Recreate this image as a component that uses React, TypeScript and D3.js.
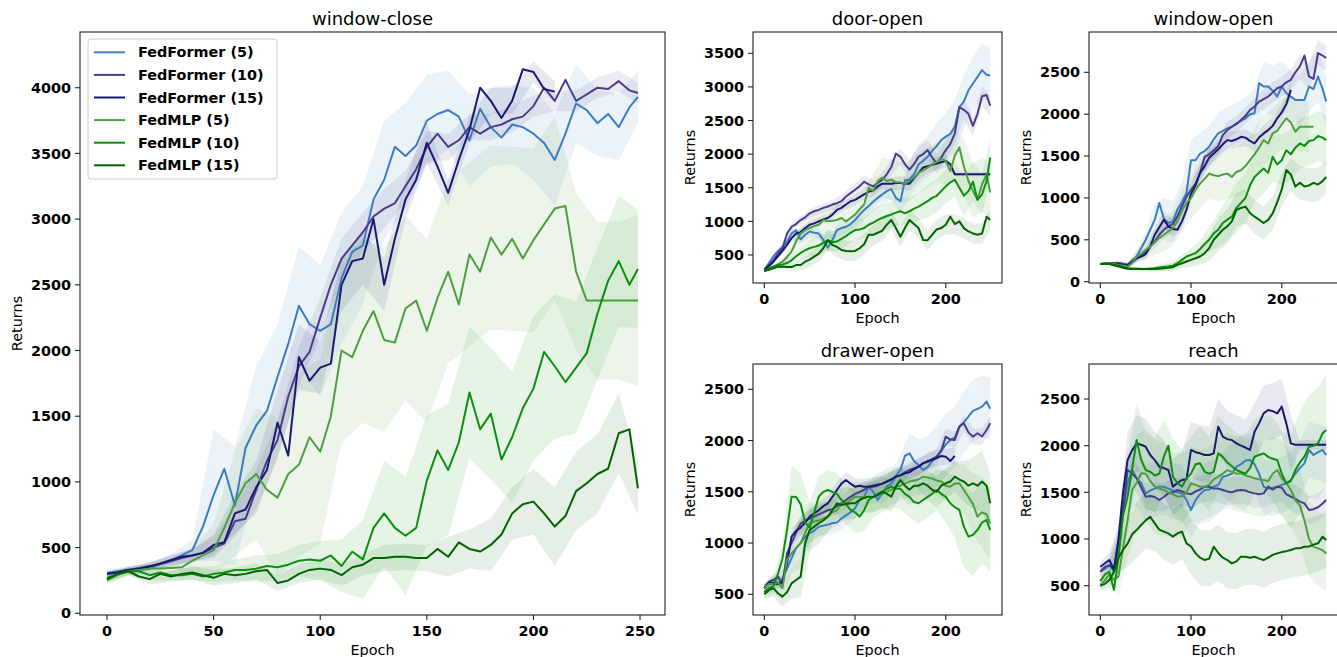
import React from 'react';
import * as d3 from 'd3';

// legend names and colours
const SERIES = ['FedFormer (5)', 'FedFormer (10)', 'FedFormer (15)', 'FedMLP (5)', 'FedMLP (10)', 'FedMLP (15)'];
const COLORS = ['#3a7dbf', '#483d8b', '#191970', '#4c9f3c', '#0c8f0c', '#006400'];

// epoch grids: lines every 5 epochs, shaded bands every 10
const EPOCHS_FINE = [0, 5, 10, 15, 20, 25, 30, 35, 40, 45, 50, 55, 60, 65, 70, 75, 80, 85, 90, 95, 100, 105, 110, 115, 120, 125, 130, 135, 140, 145, 150, 155, 160, 165, 170, 175, 180, 185, 190, 195, 200, 205, 210, 215, 220, 225, 230, 235, 240, 245, 249];
const EPOCHS = [0, 10, 20, 30, 40, 50, 60, 70, 80, 90, 100, 110, 120, 130, 140, 150, 160, 170, 180, 190, 200, 210, 220, 230, 240, 249];

// ---- window-close
const WC_FF5 = [306, 320, 330, 330, 340, 375, 400, 440, 480, 660, 900, 1100, 820, 1260, 1430, 1540, 1800, 2050, 2340, 2200, 2150, 2200, 2550, 2750, 2800, 3150, 3300, 3550, 3480, 3560, 3750, 3800, 3830, 3780, 3600, 3840, 3700, 3620, 3720, 3700, 3650, 3580, 3450, 3650, 3880, 3830, 3730, 3800, 3700, 3850, 3930];
const WC_FF10 = [300, 315, 330, 345, 360, 375, 395, 420, 440, 460, 500, 530, 700, 720, 940, 1160, 1320, 1650, 1880, 1990, 2250, 2500, 2700, 2800, 2900, 3020, 3080, 3120, 3250, 3380, 3550, 3650, 3550, 3600, 3700, 3650, 3700, 3720, 3760, 3780, 3860, 4000, 3900, 4060, 3900, 3950, 4000, 3990, 4050, 3980, 3960];
const WC_FF15 = [300, 310, 330, 340, 355, 380, 405, 430, 440, 460, 520, 540, 760, 790, 960, 1090, 1450, 1200, 1950, 1770, 1870, 1900, 2500, 2680, 2700, 3000, 2500, 2850, 3150, 3300, 3580, 3400, 3200, 3450, 3680, 4000, 3900, 3770, 3900, 4140, 4120, 3990, 3970, null, null, null, null, null, null, null, null];
const WC_MLP5 = [250, 290, 320, 330, 340, 340, 345, 350, 400, 440, 480, 650, 840, 990, 1060, 940, 880, 1060, 1130, 1340, 1230, 1500, 2000, 1950, 2150, 2300, 2080, 2060, 2320, 2380, 2150, 2400, 2600, 2350, 2730, 2600, 2860, 2730, 2850, 2700, 2840, 2960, 3080, 3100, 2600, 2380, 2380, 2380, 2380, 2380, 2380];
const WC_MLP10 = [270, 300, 320, 320, 290, 310, 290, 290, 300, 280, 300, 310, 330, 330, 340, 360, 350, 370, 400, 410, 400, 440, 360, 470, 410, 650, 760, 650, 590, 650, 1010, 1240, 1090, 1300, 1680, 1400, 1520, 1170, 1340, 1560, 1710, 1990, 1880, 1760, 1870, 1980, 2280, 2530, 2680, 2500, 2620];
const WC_MLP15 = [260, 300, 320, 280, 260, 300, 280, 300, 310, 290, 270, 300, 290, 300, 320, 330, 230, 250, 300, 330, 340, 330, 290, 350, 370, 420, 420, 430, 430, 420, 420, 490, 430, 540, 490, 470, 520, 600, 760, 830, 850, 760, 660, 740, 930, 990, 1060, 1100, 1370, 1400, 950];
const WC_BAND = [
  [30, 30, 40, 50, 80, 500, 450, 450, 400, 450, 500, 500, 450, 450, 400, 350, 300, 350, 300, 300, 350, 350, 300, 250, 250, 200],
  [20, 20, 30, 40, 50, 80, 120, 150, 150, 150, 150, 150, 150, 150, 120, 120, 100, 100, 100, 100, 80, 80, 80, 80, 80, 80],
  [20, 20, 30, 40, 50, 80, 150, 200, 250, 250, 200, 200, 200, 200, 150, 150, 100, 100, 100, 100, 80, 80, null, null, null, null],
  [30, 30, 40, 60, 100, 200, 400, 500, 600, 700, 700, 700, 700, 700, 700, 700, 700, 700, 700, 700, 700, 700, 600, 600, 600, 650],
  [30, 30, 40, 40, 50, 60, 80, 100, 100, 120, 150, 200, 300, 400, 450, 500, 500, 500, 500, 500, 550, 550, 500, 500, 500, 450],
  [30, 30, 40, 40, 50, 60, 60, 60, 60, 70, 80, 80, 80, 100, 100, 100, 150, 150, 200, 200, 250, 300, 300, 300, 300, 200],
];

// ---- door-open
const DO_FF5 = [280, 380, 480, 560, 620, 700, 820, 870, 730, 800, 850, 830, 820, 720, 610, 720, 870, 900, 920, 960, 1020, 1100, 1170, 1230, 1290, 1350, 1400, 1450, 1480, 1350, 1300, 1610, 1620, 1700, 1850, 1900, 1960, 2050, 2120, 2210, 2260, 2300, 2410, 2700, 2780, 2950, 3050, 3150, 3250, 3180, 3170];
const DO_FF10 = [280, 350, 420, 520, 600, 820, 920, 960, 1020, 1060, 1120, 1150, 1170, 1200, 1220, 1250, 1270, 1300, 1370, 1420, 1470, 1520, 1590, 1550, 1520, 1570, 1620, 1700, 1810, 2010, 1960, 1850, 1770, 1850, 1960, 2000, 2060, 1950, 1860, 1950, 2060, 2150, 2310, 2700, 2660, 2600, 2420, 2600, 2860, 2880, 2720];
const DO_FF15 = [280, 330, 400, 480, 560, 650, 750, 820, 840, 900, 950, 970, 1000, 1030, 1050, 1100, 1170, 1200, 1250, 1300, 1320, 1360, 1400, 1440, 1460, 1520, 1560, 1560, 1560, 1570, 1570, 1560, 1560, 1640, 1720, 1800, 1820, 1840, 1860, 1880, 1900, 1850, 1700, 1700, 1700, 1700, 1700, 1700, 1700, 1700, 1700];
const DO_MLP5 = [270, 290, 320, 360, 400, 470, 550, 700, 820, 870, 900, 930, 950, 1020, 1000, 1010, 1020, 1050, 1000, 1050, 1100, 1180, 1250, 1500, 1450, 1600, 1650, 1600, 1620, 1580, 1580, 1560, 1600, 1650, 1720, 1760, 1800, 1850, 1880, 1930, 1900, 1750, 1980, 2100, 1820, 1600, 1450, 1320, 1550, 1700, 1430];
const DO_MLP10 = [260, 300, 330, 350, 360, 380, 420, 480, 530, 570, 600, 620, 640, 680, 720, 690, 700, 740, 780, 830, 870, 880, 900, 950, 980, 1020, 1050, 1080, 1100, 1130, 1150, 1120, 1150, 1190, 1220, 1260, 1300, 1350, 1380, 1450, 1520, 1580, 1620, 1500, 1380, 1450, 1590, 1320, 1400, 1600, 1950];
const DO_MLP15 = [260, 280, 300, 326, 330, 320, 320, 350, 350, 400, 430, 475, 520, 600, 720, 650, 620, 574, 560, 555, 560, 600, 660, 800, 800, 830, 860, 950, 1020, 900, 770, 900, 1020, 960, 900, 723, 720, 800, 880, 900, 950, 1070, 960, 1000, 900, 850, 820, 800, 820, 1070, 1020];
const DO_BAND = [
  [10, 40, 60, 80, 80, 80, 80, 80, 100, 100, 100, 120, 150, 150, 150, 200, 250, 300, 300, 350, 350, 400, 400, 400, 400, 400],
  [10, 30, 50, 60, 60, 60, 70, 70, 80, 80, 100, 100, 100, 100, 120, 120, 150, 150, 150, 150, 150, 150, 150, 150, 150, 150],
  [10, 30, 50, 60, 60, 60, 60, 60, 70, 70, 80, 80, 80, 80, 100, 100, 100, 100, 100, 100, 100, 30, 30, 30, 30, 30],
  [10, 30, 60, 100, 150, 200, 200, 250, 250, 250, 250, 250, 250, 300, 300, 300, 300, 300, 300, 300, 350, 400, 400, 400, 400, 400],
  [10, 30, 50, 80, 100, 120, 150, 150, 150, 150, 150, 150, 200, 200, 200, 200, 200, 200, 250, 250, 250, 250, 300, 300, 300, 300],
  [10, 20, 30, 50, 80, 100, 120, 150, 150, 150, 150, 150, 150, 150, 150, 150, 150, 150, 150, 150, 150, 150, 150, 150, 150, 150],
];

// ---- window-open
const WO_FF5 = [210, 215, 220, 222, 225, 210, 200, 250, 300, 400, 500, 620, 740, 940, 750, 700, 720, 860, 950, 1060, 1450, 1450, 1530, 1560, 1610, 1700, 1770, 1800, 1830, 1850, 1890, 1920, 1950, 2000, 2010, 2370, 2330, 2330, 2280, 2210, 2330, 2250, 2210, 2170, 2170, 2170, 2330, 2300, 2450, 2300, 2150];
const WO_FF10 = [210, 215, 220, 222, 220, 210, 200, 240, 280, 320, 350, 420, 480, 560, 620, 660, 690, 780, 900, 1015, 1100, 1170, 1300, 1490, 1520, 1570, 1620, 1750, 1810, 1850, 1880, 1930, 1980, 2050, 2090, 2150, 2180, 2210, 2260, 2310, 2330, 2380, 2410, 2500, 2570, 2700, 2450, 2420, 2730, 2700, 2670];
const WO_FF15 = [210, 215, 215, 212, 210, 200, 195, 230, 280, 300, 330, 420, 560, 650, 740, 660, 630, 620, 720, 860, 1050, 1150, 1300, 1380, 1480, 1530, 1580, 1640, 1690, 1680, 1700, 1730, 1720, 1680, 1650, 1720, 1770, 1810, 1860, 1950, 2020, 2120, 2290, null, null, null, null, null, null, null, null];
const WO_MLP5 = [210, 215, 220, 210, 200, 190, 180, 220, 300, 330, 380, 420, 470, 520, 560, 600, 640, 720, 850, 940, 1000, 1100, 1170, 1230, 1290, 1270, 1260, 1280, 1290, 1250, 1310, 1330, 1380, 1450, 1520, 1600, 1690, 1650, 1770, 1800, 1880, 1950, 1900, 1790, 1850, 1850, 1850, 1850, null, null, null];
const WO_MLP10 = [210, 210, 210, 195, 180, 165, 155, 150, 150, 150, 150, 155, 160, 170, 175, 180, 190, 220, 260, 300, 320, 340, 390, 450, 500, 577, 620, 700, 740, 776, 880, 940, 1000, 1150, 1250, 1300, 1350, 1300, 1490, 1400, 1450, 1570, 1520, 1600, 1650, 1620, 1680, 1690, 1740, 1720, 1690];
const WO_MLP15 = [210, 215, 215, 200, 190, 170, 160, 155, 155, 150, 150, 150, 150, 155, 160, 165, 175, 200, 220, 240, 260, 280, 300, 340, 400, 500, 560, 620, 660, 720, 856, 880, 896, 820, 776, 740, 700, 737, 816, 950, 1100, 1334, 1280, 1135, 1180, 1135, 1150, 1180, 1160, 1200, 1250];
const WO_BAND = [
  [10, 10, 20, 30, 60, 100, 200, 250, 250, 250, 250, 250, 250, 250, 250, 250, 250, 300, 300, 300, 300, 300, 300, 300, 300, 300],
  [10, 10, 20, 30, 40, 60, 80, 100, 100, 100, 100, 100, 100, 100, 100, 100, 100, 100, 120, 120, 120, 120, 150, 150, 150, 150],
  [10, 10, 20, 30, 40, 60, 80, 100, 100, 100, 100, 100, 100, 100, 100, 100, 100, 100, 100, 100, 100, 100, null, null, null, null],
  [10, 20, 30, 40, 80, 120, 150, 200, 200, 250, 250, 300, 300, 300, 300, 300, 300, 300, 300, 300, 300, 300, 300, 300, null, null],
  [10, 10, 20, 20, 20, 20, 30, 40, 50, 60, 80, 100, 150, 200, 250, 300, 300, 300, 300, 300, 300, 300, 300, 300, 300, 300],
  [10, 10, 20, 20, 20, 20, 30, 40, 50, 60, 80, 100, 150, 200, 200, 200, 200, 200, 200, 200, 200, 200, 200, 200, 200, 200],
];

// ---- drawer-open
const DR_FF5 = [560, 620, 640, 600, 650, 750, 850, 950, 1000, 1060, 1100, 1120, 1160, 1170, 1180, 1193, 1200, 1240, 1270, 1300, 1340, 1420, 1450, 1550, 1500, 1420, 1480, 1550, 1580, 1650, 1713, 1850, 1876, 1800, 1760, 1713, 1740, 1800, 1843, 1900, 1960, 2006, 2030, 2136, 2180, 2233, 2290, 2310, 2331, 2380, 2310];
const DR_FF10 = [560, 620, 640, 672, 600, 900, 1000, 1100, 1190, 1220, 1240, 1258, 1280, 1300, 1320, 1330, 1360, 1388, 1420, 1450, 1480, 1500, 1520, 1550, 1550, 1560, 1580, 1600, 1620, 1648, 1660, 1690, 1713, 1730, 1745, 1778, 1790, 1820, 1843, 1900, 2038, 2010, 2006, 2136, 2168, 2080, 2038, 2071, 2040, 2103, 2168];
const DR_FF15 = [560, 610, 610, 600, 620, 800, 1063, 1120, 1150, 1200, 1258, 1290, 1320, 1360, 1388, 1450, 1518, 1580, 1615, 1580, 1550, 1560, 1550, 1550, 1560, 1570, 1580, 1600, 1620, 1648, 1660, 1680, 1690, 1720, 1745, 1780, 1800, 1810, 1830, 1850, 1843, 1800, 1850, null, null, null, null, null, null, null, null];
const DR_MLP5 = [560, 600, 600, 620, 560, 835, 900, 950, 1000, 1100, 1193, 1210, 1220, 1240, 1258, 1300, 1320, 1380, 1390, 1420, 1453, 1450, 1450, 1450, 1450, 1460, 1480, 1500, 1520, 1550, 1560, 1580, 1600, 1610, 1620, 1648, 1640, 1630, 1610, 1600, 1560, 1550, 1580, 1583, 1518, 1450, 1380, 1258, 1300, 1280, 1193];
const DR_MLP10 = [520, 560, 580, 700, 850, 1128, 1453, 1450, 1380, 1200, 1150, 1300, 1453, 1500, 1518, 1500, 1480, 1420, 1380, 1323, 1300, 1258, 1320, 1420, 1450, 1480, 1500, 1530, 1550, 1530, 1530, 1480, 1450, 1400, 1388, 1420, 1450, 1480, 1518, 1480, 1450, 1388, 1350, 1323, 1160, 1063, 1080, 1128, 1200, 1225, 1128];
const DR_MLP15 = [500, 540, 560, 510, 477, 520, 607, 640, 672, 998, 1128, 1160, 1193, 1220, 1258, 1320, 1388, 1370, 1380, 1388, 1388, 1420, 1440, 1453, 1450, 1470, 1500, 1480, 1453, 1550, 1615, 1560, 1520, 1560, 1560, 1583, 1560, 1520, 1500, 1560, 1583, 1600, 1648, 1620, 1600, 1560, 1583, 1560, 1600, 1560, 1388];
const DR_BAND = [
  [50, 60, 80, 100, 100, 100, 100, 100, 100, 100, 100, 100, 100, 100, 120, 150, 200, 250, 300, 300, 300, 300, 300, 300, 300, 300],
  [40, 50, 60, 80, 80, 80, 80, 80, 80, 80, 80, 80, 80, 80, 80, 80, 80, 80, 80, 80, 80, 80, 80, 80, 80, 80],
  [40, 50, 60, 80, 80, 80, 80, 80, 80, 80, 80, 80, 80, 80, 80, 80, 80, 80, 80, 80, 80, 80, null, null, null, null],
  [50, 80, 120, 200, 250, 200, 150, 150, 150, 150, 150, 150, 150, 150, 150, 150, 150, 150, 150, 150, 150, 200, 250, 300, 350, 350],
  [50, 80, 150, 300, 300, 250, 200, 200, 200, 200, 200, 200, 200, 200, 200, 200, 200, 200, 200, 200, 250, 300, 400, 400, 400, 400],
  [50, 80, 100, 150, 200, 200, 200, 150, 150, 150, 150, 150, 150, 150, 150, 150, 150, 150, 150, 150, 150, 150, 200, 250, 300, 300],
];

// ---- reach
const RE_FF5 = [650, 680, 720, 650, 900, 1300, 1600, 1739, 1650, 1600, 1489, 1520, 1540, 1561, 1560, 1540, 1520, 1500, 1489, 1420, 1311, 1420, 1480, 1525, 1530, 1561, 1580, 1668, 1680, 1700, 1775, 1800, 1840, 1846, 1800, 1700, 1561, 1540, 1550, 1561, 1580, 1600, 1632, 1700, 1760, 1811, 1954, 1900, 1930, 1954, 1900];
const RE_FF10 = [650, 700, 720, 680, 950, 1300, 1739, 1704, 1650, 1550, 1454, 1460, 1450, 1418, 1450, 1490, 1500, 1525, 1510, 1489, 1480, 1510, 1530, 1561, 1560, 1540, 1540, 1525, 1510, 1500, 1520, 1525, 1520, 1500, 1489, 1480, 1489, 1561, 1530, 1561, 1550, 1480, 1454, 1430, 1400, 1382, 1311, 1320, 1340, 1380, 1418];
const RE_FF15 = [703, 740, 775, 668, 1000, 1500, 1846, 1950, 2025, 2010, 1989, 1900, 1846, 1775, 1760, 1739, 1561, 1600, 1632, 1640, 1954, 1930, 1918, 1900, 1900, 1918, 2204, 2096, 2070, 2061, 2025, 2000, 1980, 1954, 2150, 2239, 2346, 2382, 2370, 2346, 2418, 2239, 2025, 2010, 2010, 2010, 2010, 2010, 2010, 2010, 2010];
const RE_MLP5 = [500, 560, 620, 560, 600, 900, 1200, 1525, 1600, 1704, 1700, 1620, 1561, 1540, 1525, 1500, 1480, 1454, 1460, 1500, 1596, 1580, 1560, 1561, 1580, 1640, 1668, 1700, 1739, 1720, 1700, 1704, 1680, 1668, 1650, 1640, 1632, 1620, 1700, 1739, 1650, 1600, 1525, 1418, 1360, 1200, 1000, 918, 900, 880, 846];
const RE_MLP10 = [550, 620, 650, 454, 800, 1250, 1450, 1750, 2061, 1850, 1739, 1720, 1680, 1700, 1882, 2000, 1668, 1600, 1561, 1650, 1700, 1800, 1811, 1720, 1700, 1720, 1918, 1880, 1820, 1780, 1739, 1720, 1700, 1760, 1882, 1900, 1918, 1880, 1860, 1846, 1700, 1596, 1620, 1739, 1820, 1882, 1989, 2000, 2025, 2132, 2168];
const RE_MLP15 = [500, 520, 560, 650, 800, 882, 950, 1050, 1096, 1150, 1200, 1239, 1168, 1100, 1080, 1061, 1025, 1060, 1080, 954, 920, 846, 800, 775, 790, 918, 850, 800, 775, 739, 760, 811, 810, 800, 811, 790, 775, 800, 830, 846, 860, 870, 882, 900, 900, 918, 920, 940, 954, 1025, 989];
const RE_BAND = [
  [50, 80, 150, 300, 300, 300, 300, 300, 300, 300, 300, 300, 300, 300, 300, 300, 300, 300, 300, 300, 300, 300, 300, 300, 300, 300],
  [50, 80, 150, 200, 150, 150, 150, 150, 150, 150, 150, 150, 150, 150, 150, 150, 150, 150, 150, 150, 150, 150, 150, 150, 150, 150],
  [50, 80, 150, 300, 300, 300, 300, 300, 300, 300, 300, 300, 300, 300, 300, 300, 300, 300, 300, 300, 300, 300, 50, 50, 50, 50],
  [50, 100, 200, 400, 500, 500, 500, 500, 450, 450, 400, 400, 400, 400, 400, 400, 400, 400, 400, 400, 400, 400, 400, 400, 400, 400],
  [50, 100, 200, 400, 400, 400, 400, 400, 400, 400, 400, 400, 400, 400, 400, 400, 400, 400, 400, 450, 450, 500, 550, 550, 600, 600],
  [50, 100, 150, 250, 300, 300, 300, 300, 300, 300, 300, 300, 300, 300, 300, 300, 300, 300, 300, 300, 300, 300, 300, 300, 300, 300],
];

const BIG_X_TICKS = [0, 50, 100, 150, 200, 250];
const SMALL_X_TICKS = [0, 100, 200];

type Box = { left: number; top: number; width: number; height: number };
type PanelCfg = {
  id: string;
  title: string;
  box: Box;
  xDomain: [number, number];
  yDomain: [number, number];
  xTicks: number[];
  yTicks: number[];
  values: (number | null)[][];
  bands: (number | null)[][];
};

const PANELS: PanelCfg[] = [
  {
    id: 'wc', title: 'window-close',
    box: { left: 80, top: 32, width: 585, height: 583 },
    xDomain: [-12.66, 261.7], yDomain: [-13, 4424],
    xTicks: BIG_X_TICKS, yTicks: [0, 500, 1000, 1500, 2000, 2500, 3000, 3500, 4000],
    values: [WC_FF5, WC_FF10, WC_FF15, WC_MLP5, WC_MLP10, WC_MLP15],
    bands: WC_BAND,
  },
  {
    id: 'do', title: 'door-open',
    box: { left: 753, top: 32, width: 249, height: 251 },
    xDomain: [-12.5, 262], yDomain: [83, 3817],
    xTicks: SMALL_X_TICKS, yTicks: [500, 1000, 1500, 2000, 2500, 3000, 3500],
    values: [DO_FF5, DO_FF10, DO_FF15, DO_MLP5, DO_MLP10, DO_MLP15],
    bands: DO_BAND,
  },
  {
    id: 'wo', title: 'window-open',
    box: { left: 1089, top: 32, width: 249, height: 251 },
    xDomain: [-12.5, 262], yDomain: [-16, 2981],
    xTicks: SMALL_X_TICKS, yTicks: [0, 500, 1000, 1500, 2000, 2500],
    values: [WO_FF5, WO_FF10, WO_FF15, WO_MLP5, WO_MLP10, WO_MLP15],
    bands: WO_BAND,
  },
  {
    id: 'dr', title: 'drawer-open',
    box: { left: 753, top: 364, width: 249, height: 251 },
    xDomain: [-12.5, 262], yDomain: [298, 2747],
    xTicks: SMALL_X_TICKS, yTicks: [500, 1000, 1500, 2000, 2500],
    values: [DR_FF5, DR_FF10, DR_FF15, DR_MLP5, DR_MLP10, DR_MLP15],
    bands: DR_BAND,
  },
  {
    id: 're', title: 'reach',
    box: { left: 1089, top: 364, width: 249, height: 251 },
    xDomain: [-12.5, 262], yDomain: [186, 2875],
    xTicks: SMALL_X_TICKS, yTicks: [500, 1000, 1500, 2000, 2500],
    values: [RE_FF5, RE_FF10, RE_FF15, RE_MLP5, RE_MLP10, RE_MLP15],
    bands: RE_BAND,
  },
];

const FONT = "'DejaVu Sans', sans-serif";
const TICK_SIZE = 14.4;

const Panel: React.FC<{ p: PanelCfg; legend?: boolean }> = ({ p, legend }) => {
  const { left, top, width, height } = p.box;
  const bottom = top + height;
  const x = d3.scaleLinear().domain(p.xDomain).range([left, left + width]);
  const y = d3.scaleLinear().domain(p.yDomain).range([bottom, top]);
  const clipId = `clip-${p.id}`;

  const line = d3
    .line<[number, number | null]>()
    .defined((d) => d[1] != null)
    .x((d) => x(d[0]))
    .y((d) => y(d[1] as number));

  const area = d3
    .area<[number, number | null, number | null]>()
    .defined((d) => d[1] != null && d[2] != null)
    .x((d) => x(d[0]))
    .y0((d) => y((d[1] as number) - (d[2] as number)))
    .y1((d) => y((d[1] as number) + (d[2] as number)));

  return (
    <g>
      <defs>
        <clipPath id={clipId}>
          <rect x={left} y={top} width={width} height={height} />
        </clipPath>
      </defs>

      <g clipPath={`url(#${clipId})`}>
        {/* shaded bands, centred on the line value at the same epoch */}
        {p.bands.map((spread, si) => {
          const pts: [number, number | null, number | null][] = EPOCHS.map((e, i) => {
            const idx = EPOCHS_FINE.indexOf(e);
            return [e, p.values[si][idx], spread[i]];
          });
          return <path key={`b${si}`} d={area(pts) ?? ''} fill={COLORS[si]} fillOpacity={0.1} stroke="none" />;
        })}
        {p.values.map((vals, si) => (
          <path
            key={`l${si}`}
            d={line(EPOCHS_FINE.map((e, i) => [e, vals[i]] as [number, number | null])) ?? ''}
            fill="none"
            stroke={COLORS[si]}
            strokeWidth={2}
            strokeLinejoin="round"
          />
        ))}
      </g>

      {/* frame */}
      <rect x={left} y={top} width={width} height={height} fill="none" stroke="#222" strokeWidth={1.1} />

      {/* y ticks */}
      {p.yTicks.map((t) => (
        <g key={`y${t}`}>
          <line x1={left - 5} x2={left} y1={y(t)} y2={y(t)} stroke="#222" strokeWidth={1.1} />
          <text x={left - 9} y={y(t)} dy="0.36em" textAnchor="end" fontFamily={FONT} fontWeight="bold" fontSize={TICK_SIZE} fill="#000">
            {t}
          </text>
        </g>
      ))}

      {/* x ticks */}
      {p.xTicks.map((t) => (
        <g key={`x${t}`}>
          <line x1={x(t)} x2={x(t)} y1={bottom} y2={bottom + 5} stroke="#222" strokeWidth={1.1} />
          <text x={x(t)} y={bottom + 21} textAnchor="middle" fontFamily={FONT} fontWeight="bold" fontSize={TICK_SIZE} fill="#000">
            {t}
          </text>
        </g>
      ))}

      {/* labels */}
      <text x={left + width / 2} y={top - 7} textAnchor="middle" fontFamily={FONT} fontSize={18} fill="#000">
        {p.title}
      </text>
      <text x={left + width / 2} y={bottom + 40} textAnchor="middle" fontFamily={FONT} fontSize={14.4} fill="#000">
        Epoch
      </text>
      <text
        transform={`translate(${left - 58},${top + height / 2}) rotate(-90)`}
        textAnchor="middle"
        fontFamily={FONT}
        fontSize={14.4}
        fill="#000"
      >
        Returns
      </text>

      {legend && (
        <g>
          <rect x={left + 8} y={top + 7} width={189} height={140} rx={3} fill="#fff" fillOpacity={0.8} stroke="#ccc" strokeWidth={1} />
          {SERIES.map((s, i) => {
            const ly = top + 20.3 + i * 22.6;
            return (
              <g key={s}>
                <line x1={left + 14} x2={left + 45} y1={ly} y2={ly} stroke={COLORS[i]} strokeWidth={2} />
                <text x={left + 58} y={ly} dy="0.36em" fontFamily={FONT} fontWeight="bold" fontSize={TICK_SIZE} fill="#000">
                  {s}
                </text>
              </g>
            );
          })}
        </g>
      )}
    </g>
  );
};

export default function App() {
  return (
    <svg
      width={1337}
      height={657}
      viewBox="0 0 1337 657"
      style={{ position: 'absolute', left: 0, top: 0, background: '#fff', display: 'block' }}
    >
      <rect x={0} y={0} width={1337} height={657} fill="#fff" />
      {PANELS.map((p, i) => (
        <Panel key={p.id} p={p} legend={i === 0} />
      ))}
    </svg>
  );
}
